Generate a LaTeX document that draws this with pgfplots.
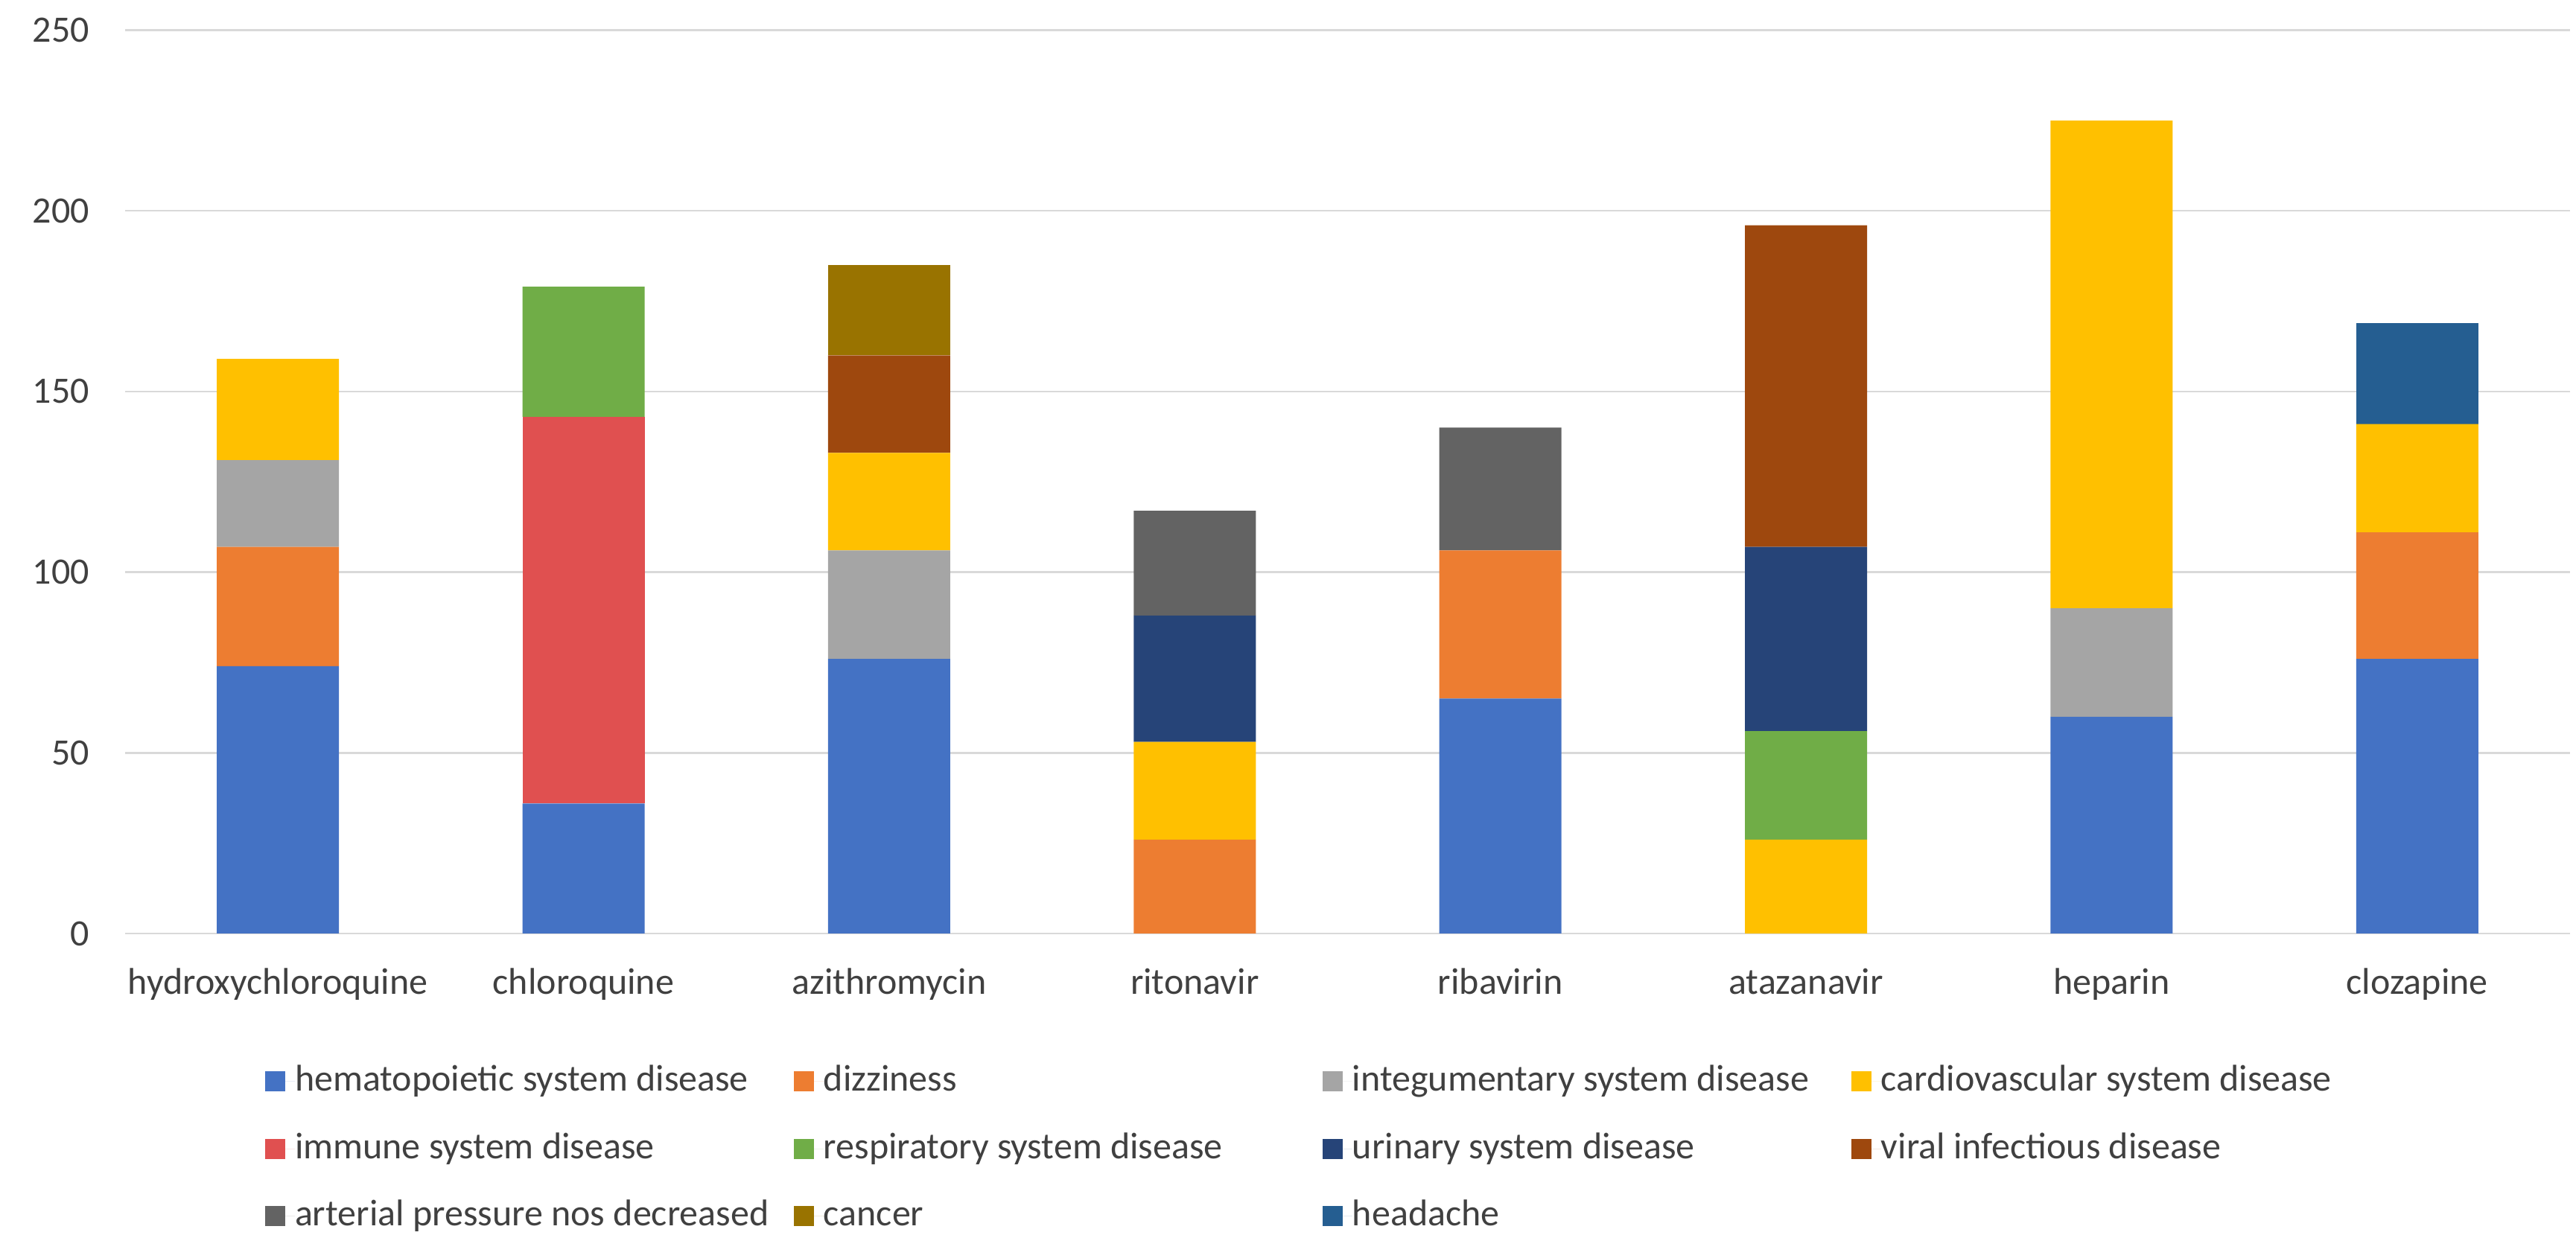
\documentclass[border=0pt]{standalone}
\usepackage{fontspec}
\setmainfont{Carlito}
\usepackage{pgfplots}
\usepackage{pgfplotstable}
\pgfplotsset{compat=1.18}

\definecolor{hemat}{HTML}{4472C4}
\definecolor{dizz}{HTML}{ED7D31}
\definecolor{integ}{HTML}{A5A5A5}
\definecolor{cardio}{HTML}{FFC000}
\definecolor{immune}{HTML}{E05050}
\definecolor{resp}{HTML}{70AD47}
\definecolor{urin}{HTML}{264478}
\definecolor{viral}{HTML}{9E480E}
\definecolor{arter}{HTML}{636363}
\definecolor{cancer}{HTML}{997300}
\definecolor{head}{HTML}{255E91}
\definecolor{gridgray}{HTML}{D9D9D9}
\definecolor{textgray}{HTML}{404040}

% counts of adverse-event categories per drug
\pgfplotstableread{
x hemat dizz integ cardio immune resp urin viral arter cancer head
0 74 33 24 28   0  0  0  0  0  0  0
1 36  0  0  0 107 36  0  0  0  0  0
2 76  0 30 27   0  0  0 27  0 25  0
3  0 26  0 27   0  0 35  0 29  0  0
4 65 41  0  0   0  0  0  0 34  0  0
5  0  0  0 26   0 30 51 89  0  0  0
6 60  0 30 135  0  0  0  0  0  0  0
7 76 35  0 30   0  0  0  0  0  0 28
}\drugs

% fixed-width legend cells, so the four legend columns are evenly spaced
\newcommand{\legcell}[1]{\makebox[134pt][l]{#1}}

\begin{document}
\begin{tikzpicture}
\begin{axis}[
  at={(0,0)}, anchor=south west,
  width=656.6pt, height=242.7pt, scale only axis,
  ybar stacked, bar width=32.8pt,
  xmin=-0.5, xmax=7.5, ymin=0, ymax=250,
  xtick={0,...,7},
  xticklabels={hydroxychloroquine,chloroquine,azithromycin,ritonavir,ribavirin,atazanavir,heparin,clozapine},
  ytick={0,50,...,250},
  axis line style={draw=none},
  major tick length=0pt,
  ymajorgrids,
  grid style={line width=0.5pt, color=gridgray},
  tick label style={font=\fontsize{10}{12}\selectfont, text=textgray},
  /pgf/number format/assume math mode=true,
  xticklabel style={anchor=base, inner sep=0pt, yshift=-16.4pt},
  yticklabel style={anchor=east, inner sep=0pt, xshift=-9.4pt},
  legend columns=4,
  legend cell align=left,
  legend style={
    at={(axis description cs:0.05726,-0.14545)}, anchor=north west,
    draw=none, fill=none, inner sep=0pt, outer sep=0pt,
    column sep=0pt, row sep=9.1pt,
    font=\fontsize{10}{12}\selectfont, text=textgray,
    nodes={inner sep=0pt, text height=7pt, text depth=2pt},
  },
  legend image code/.code={
    \fill[#1] (0pt,-2.7pt) rectangle (5.4pt,2.7pt);
    \path (0pt,0pt) -- (8pt,0pt);
  },
]
\addplot[fill=hemat,  draw=none] table[x=x, y=hemat]  {\drugs};
\addlegendentry{\legcell{hematopoietic system disease}}
\addplot[fill=dizz,   draw=none] table[x=x, y=dizz]   {\drugs};
\addlegendentry{\legcell{dizziness}}
\addplot[fill=integ,  draw=none] table[x=x, y=integ]  {\drugs};
\addlegendentry{\legcell{integumentary system disease}}
\addplot[fill=cardio, draw=none] table[x=x, y=cardio] {\drugs};
\addlegendentry{\legcell{cardiovascular system disease}}
\addplot[fill=immune, draw=none] table[x=x, y=immune] {\drugs};
\addlegendentry{\legcell{immune system disease}}
\addplot[fill=resp,   draw=none] table[x=x, y=resp]   {\drugs};
\addlegendentry{\legcell{respiratory system disease}}
\addplot[fill=urin,   draw=none] table[x=x, y=urin]   {\drugs};
\addlegendentry{\legcell{urinary system disease}}
\addplot[fill=viral,  draw=none] table[x=x, y=viral]  {\drugs};
\addlegendentry{\legcell{viral infectious disease}}
\addplot[fill=arter,  draw=none] table[x=x, y=arter]  {\drugs};
\addlegendentry{\legcell{arterial pressure nos decreased}}
\addplot[fill=cancer, draw=none] table[x=x, y=cancer] {\drugs};
\addlegendentry{\legcell{cancer}}
\addplot[fill=head,   draw=none] table[x=x, y=head]   {\drugs};
\addlegendentry{\legcell{headache}}
\end{axis}
\pgfresetboundingbox
\useasboundingbox (-33.6pt,-81pt) rectangle (658.2pt,250.8pt);
\end{tikzpicture}
\end{document}
